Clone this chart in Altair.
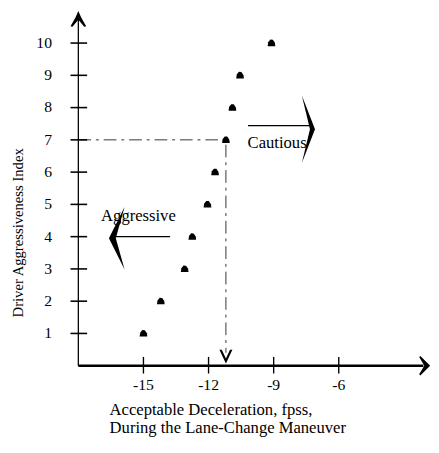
import altair as alt
import pandas as pd

# ---------------- data ----------------
decel = [-15.0, -14.2, -13.1, -12.75, -12.05, -11.7, -11.2, -10.9, -10.55, -9.1]
index = [1, 2, 3, 4, 5, 6, 7, 8, 9, 10]

x_ticks = [-15, -12, -9, -6]
x_tick_labels = ["-15", "-12", "-9", "-6"]
y_ticks = [1, 2, 3, 4, 5, 6, 7, 8, 9, 10]
y_tick_labels = ["1", "2", "3", "4", "5", "6", "7", "8", "9", "10"]

x_title_lines = ["Acceptable Deceleration, fpss,", "During the Lane-Change Maneuver"]
y_title = "Driver Aggressiveness Index"

ann_text = ["Cautious", "Aggressive"]
ann_x = [-10.2, -16.95]
ann_y = [6.9, 4.65]

# reference point (dash-dot guide)
ref_x = -11.2
ref_y = 7

# arrows
caut_line = (-10.18, -7.25, 7.44)
aggr_line = (-16.27, -13.77, 4.0)

# ---------------- layout ----------------
X_DOM = [-18, -1.75]
Y_DOM = [0, 10.9]
W = 361
H = 360
FONT = "Liberation Serif"

xs = alt.Scale(domain=X_DOM, nice=False, zero=False)
ys = alt.Scale(domain=Y_DOM, nice=False, zero=False)


def X(f, **kw):
    return alt.X(f, type="quantitative", scale=xs, axis=None, **kw)


def Y(f, **kw):
    return alt.Y(f, type="quantitative", scale=ys, axis=None, **kw)


# axis lines
yaxis = alt.Chart(pd.DataFrame({"x": [X_DOM[0]], "y": [0], "y2": [10.75]})).mark_rule(
    color="black", strokeWidth=1.3
).encode(x=X("x"), y=Y("y"), y2="y2")

xaxis = alt.Chart(pd.DataFrame({"x": [X_DOM[0]], "x2": [-2.1], "y": [0]})).mark_rule(
    color="black", strokeWidth=2.5
).encode(x=X("x"), x2="x2", y=Y("y"))

# ticks
ytick_df = pd.DataFrame({"v": y_ticks, "lab": y_tick_labels})
xtick_df = pd.DataFrame({"v": x_ticks, "lab": x_tick_labels})

yticks = alt.Chart(ytick_df).mark_rule(color="black", strokeWidth=1.6).encode(
    y=Y("v"), x=alt.value(-8), x2=alt.value(9)
)
xticks = alt.Chart(xtick_df).mark_rule(color="black", strokeWidth=1.4).encode(
    x=X("v"), y=alt.value(H - 9), y2=alt.value(H + 8)
)

ylabels = alt.Chart(ytick_df).mark_text(
    align="right", baseline="middle", font=FONT, fontSize=16, color="black"
).encode(y=Y("v"), x=alt.value(-27), text="lab:N")

xlabels = alt.Chart(xtick_df).mark_text(
    align="center", baseline="middle", font=FONT, fontSize=16, color="black"
).encode(x=X("v"), y=alt.value(H + 20), text="lab:N")

# points
pts = alt.Chart(pd.DataFrame({"x": decel, "y": index})).mark_point(
    filled=True, color="black", opacity=1,
    shape="M-1,0.8 L-0.85,-0.2 L-0.3,-0.9 L0.35,-0.85 L0.9,-0.05 L1,0.8 Z",
    size=62, strokeWidth=0
).encode(x=X("x"), y=Y("y"))

# dash-dot guides
hguide = alt.Chart(pd.DataFrame({"x": [X_DOM[0]], "x2": [ref_x - 0.12], "y": [ref_y]})).mark_rule(
    color="#333333", strokeWidth=1, strokeDash=[13, 5, 3, 5]
).encode(x=X("x"), x2="x2", y=Y("y"))

vguide = alt.Chart(pd.DataFrame({"x": [ref_x], "y": [ref_y - 0.15], "y2": [0.4]})).mark_rule(
    color="#333333", strokeWidth=1, strokeDash=[13, 5, 3, 5]
).encode(x=X("x"), y=Y("y"), y2="y2")

# arrowheads
up_head = alt.Chart(pd.DataFrame({"x": [X_DOM[0]], "y": [10.75]})).mark_point(
    filled=True, color="black", opacity=1, size=256, strokeWidth=0,
    shape="M0,-1 L0.35,-0.2 L1,0.95 L0.75,1 L0,0.1 L-0.75,1 L-1,0.95 L-0.35,-0.2 Z"
).encode(x=X("x"), y=Y("y"))

right_head = alt.Chart(pd.DataFrame({"x": [-2.24], "y": [0]})).mark_point(
    filled=True, color="black", opacity=1, size=400, strokeWidth=0,
    shape="M1,0 L0,-1 L-0.12,-0.88 L0.4,0 L-0.12,0.88 L0,1 Z"
).encode(x=X("x"), y=Y("y"))

down_head = alt.Chart(pd.DataFrame({"x": [ref_x], "y": [0.28]})).mark_point(
    filled=True, color="black", opacity=1, size=196, strokeWidth=0,
    shape="M0,1 L-0.95,-1 L-0.6,-1 L0,0.25 L0.6,-1 L0.95,-1 Z"
).encode(x=X("x"), y=Y("y"))

# annotation arrows
arrow_lines = alt.Chart(pd.DataFrame({
    "x": [caut_line[0], aggr_line[0]],
    "x2": [caut_line[1], aggr_line[1]],
    "y": [caut_line[2], aggr_line[2]],
})).mark_rule(color="black", strokeWidth=1.2).encode(x=X("x"), x2="x2", y=Y("y"))

caut_chev = alt.Chart(pd.DataFrame({"x": [-7.39], "y": [7.33]})).mark_point(
    filled=True, color="black", opacity=1, size=4761, strokeWidth=0,
    shape="M-0.2,-1 L0.19,0 L-0.2,1 L0.04,0 Z"
).encode(x=X("x"), y=Y("y"))

aggr_chev = alt.Chart(pd.DataFrame({"x": [-16.23], "y": [3.95]})).mark_point(
    filled=True, color="black", opacity=1, size=4096, strokeWidth=0,
    shape="M0.25,-1 L-0.25,0 L0.25,1 L-0.03,0 Z"
).encode(x=X("x"), y=Y("y"))

ann = alt.Chart(pd.DataFrame({"x": ann_x, "y": ann_y, "t": ann_text})).mark_text(
    align="left", baseline="middle", font=FONT, fontSize=17, color="black"
).encode(x=X("x"), y=Y("y"), text="t:N")

# axis titles
xtitle = alt.Chart(pd.DataFrame({"t": x_title_lines, "row": [0, 1]})).mark_text(
    align="left", baseline="middle", font=FONT, fontSize=17, color="black"
).encode(
    x=alt.value(32),
    y=alt.Y("row:Q", scale=alt.Scale(domain=[0, 1], range=[H + 45, H + 64]), axis=None),
    text="t:N",
)

ytitle = alt.Chart(pd.DataFrame({"t": [y_title]})).mark_text(
    align="center", baseline="middle", font=FONT, fontSize=15, color="black", angle=270
).encode(x=alt.value(-62), y=alt.value(224), text="t:N")

chart = alt.layer(
    hguide, vguide, yaxis, xaxis, yticks, xticks, ylabels, xlabels,
    arrow_lines, caut_chev, aggr_chev, up_head, right_head, down_head,
    pts, ann, xtitle, ytitle,
).resolve_scale(y="independent").properties(
    width=W, height=H,
    autosize=alt.AutoSizeParams(type="none"),
    padding={"left": 72, "top": 1, "right": 0, "bottom": 76},
).configure_view(stroke=None)

chart.save("out.html", embed_options={"renderer": "svg", "actions": False})
